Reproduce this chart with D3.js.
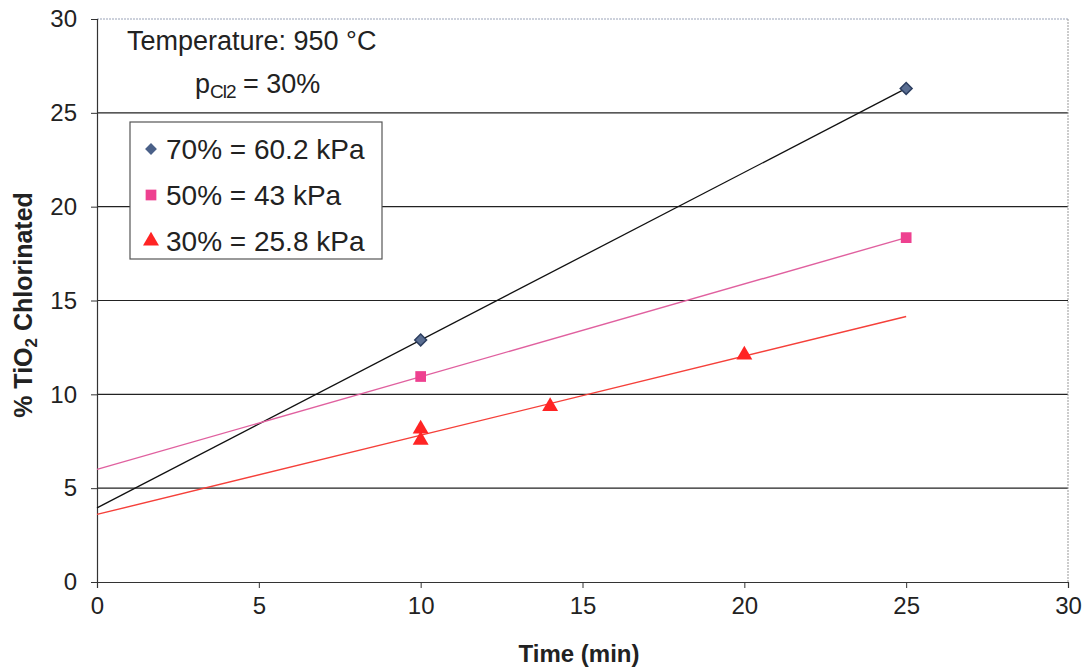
<!DOCTYPE html>
<html><head><meta charset="utf-8">
<script src="https://cdn.jsdelivr.net/npm/d3@7"></script>
<style>body{margin:0;background:#fff;} svg{display:block;font-family:Arial,"Liberation Sans",sans-serif;}</style>
</head><body>
<svg id="c" width="1083" height="668"></svg>
<script>
const xTicks = [0, 5, 10, 15, 20, 25, 30];
const yTicks = [0, 5, 10, 15, 20, 25, 30];
const seriesNames = ["70% = 60.2 kPa", "50% = 43 kPa", "30% = 25.8 kPa"];
const s70x = [10, 25];
const s70y = [12.9, 26.3];
const s50x = [10, 25];
const s50y = [10.95, 18.35];
const s30x = [10, 10, 14, 20];
const s30y = [8.1, 7.5, 9.3, 12.05];
// trendline endpoints [x, y]
const t70 = [[0, 3.95], [25, 26.3]];
const t50 = [[0, 6.0], [25, 18.35]];
const t30 = [[0, 3.6], [25, 14.15]];

const svg = d3.select("#c");
const x = d3.scaleLinear().domain([0, 30]).range([97, 1068]);
const y = d3.scaleLinear().domain([0, 30]).range([582, 19]);

// grid lines
svg.append("g").selectAll("line").data(yTicks.filter(d => d > 0 && d < 30)).join("line")
  .attr("x1", x(0)).attr("x2", x(30)).attr("y1", d => y(d)).attr("y2", d => y(d))
  .attr("stroke", "#222").attr("stroke-width", 1.2);
// top and right border (dotted, light)
svg.append("line").attr("x1", x(0)).attr("x2", x(30)).attr("y1", y(30)).attr("y2", y(30))
  .attr("stroke", "#9aa3b8").attr("stroke-width", 1).attr("stroke-dasharray", "2,1");
svg.append("line").attr("x1", x(30)).attr("x2", x(30)).attr("y1", y(30)).attr("y2", y(0))
  .attr("stroke", "#999").attr("stroke-width", 1).attr("stroke-dasharray", "2,1");

// axes
const xAxis = d3.axisBottom(x).tickValues(xTicks).tickSize(6).tickPadding(9).tickFormat(d3.format("d"));
const yAxis = d3.axisLeft(y).tickValues(yTicks).tickSize(6).tickPadding(14).tickFormat(d3.format("d"));
const gx = svg.append("g").attr("transform", `translate(0,${y(0)})`).call(xAxis);
const gy = svg.append("g").attr("transform", `translate(${x(0)},0)`).call(yAxis);
[gx, gy].forEach(g => {
  g.select(".domain").attr("stroke", "#333").attr("stroke-width", 1.2);
  g.selectAll(".tick line").attr("stroke", "#333");
  g.selectAll(".tick text").attr("font-size", 24).attr("fill", "#222").attr("font-family", "Arial, 'Liberation Sans', sans-serif");
});

// trendlines
const line = d3.line().x(d => x(d[0])).y(d => y(d[1]));
svg.append("path").attr("d", line(t70)).attr("fill", "none").attr("stroke", "#111").attr("stroke-width", 1.3);
svg.append("path").attr("d", line(t50)).attr("fill", "none").attr("stroke", "#e0609f").attr("stroke-width", 1.4);
svg.append("path").attr("d", line(t30)).attr("fill", "none").attr("stroke", "#f5403a").attr("stroke-width", 1.4);

// markers
const diamond = d3.symbol().type(d3.symbolSquare).size(70);
const square = d3.symbol().type(d3.symbolSquare).size(115);
const tri = d3.symbol().type(d3.symbolTriangle).size(110);
svg.append("g").selectAll("path").data(s70x.map((d, i) => [d, s70y[i]])).join("path")
  .attr("d", diamond).attr("transform", d => `translate(${x(d[0])},${y(d[1])}) rotate(45)`)
  .attr("fill", "#5a6e92").attr("stroke", "#2c3e60").attr("stroke-width", 1.5);
svg.append("g").selectAll("path").data(s50x.map((d, i) => [d, s50y[i]])).join("path")
  .attr("d", square).attr("transform", d => `translate(${x(d[0])},${y(d[1])})`)
  .attr("fill", "#ee4190");
svg.append("g").selectAll("path").data(s30x.map((d, i) => [d, s30y[i]])).join("path")
  .attr("d", tri).attr("transform", d => `translate(${x(d[0])},${y(d[1]) - 1})`)
  .attr("fill", "#ff2424");

// annotation
svg.append("text").attr("x", 127).attr("y", 50).attr("font-size", 27).attr("fill", "#222")
  .text("Temperature: 950 °C");
const p = svg.append("text").attr("x", 195).attr("y", 93).attr("font-size", 27).attr("fill", "#222");
p.append("tspan").text("p");
p.append("tspan").attr("font-size", 19).attr("dy", 5).attr("letter-spacing", -1).text("Cl2");
p.append("tspan").attr("dy", -5).text(" = 30%");

// legend
const lg = svg.append("g");
lg.append("rect").attr("x", 130).attr("y", 122).attr("width", 252).attr("height", 137)
  .attr("fill", "#fff").attr("stroke", "#555").attr("stroke-width", 1.2);
const lsyms = [diamond, square, tri];
const lcols = ["#4a6088", "#ee4190", "#ff2424"];
const lrot = [45, 0, 0];
seriesNames.forEach((n, i) => {
  const cy = 149 + i * 46;
  lg.append("path").attr("d", lsyms[i]).attr("transform", `translate(151,${cy}) rotate(${lrot[i]})`).attr("fill", lcols[i]);
  lg.append("text").attr("x", 166).attr("y", cy + 10).attr("font-size", 28).attr("fill", "#222").text(n);
});

// axis titles
svg.append("text").attr("x", 579).attr("y", 662).attr("text-anchor", "middle")
  .attr("font-size", 24).attr("font-weight", "bold").attr("fill", "#222").text("Time (min)");
const yl = svg.append("text").attr("transform", "translate(32,305) rotate(-90)").attr("text-anchor", "middle")
  .attr("font-size", 25).attr("font-weight", "bold").attr("fill", "#222");
yl.append("tspan").text("% TiO");
yl.append("tspan").attr("font-size", 17).attr("dy", 5).text("2");
yl.append("tspan").attr("dy", -5).text(" Chlorinated");
</script>
</body></html>
